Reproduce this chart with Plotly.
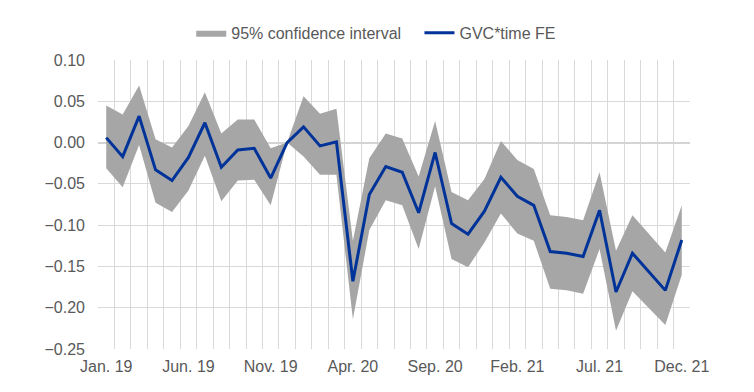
import plotly.graph_objects as go

months = ["Jan", "Feb", "Mar", "Apr", "May", "Jun", "Jul", "Aug", "Sep", "Oct", "Nov", "Dec"]
categories = [f"{m}. {y}" for y in ["19", "20", "21"] for m in months]

estimate = [0.006, -0.017, 0.032, -0.033, -0.046, -0.018, 0.024, -0.030, -0.009, -0.007, -0.043, 0.000,
            0.019, -0.004, 0.001, -0.168, -0.063, -0.029, -0.036, -0.085, -0.012, -0.098, -0.111, -0.083,
            -0.042, -0.065, -0.076, -0.132, -0.134, -0.138, -0.082, -0.181, -0.134, -0.156, -0.179, -0.118]
upper = [0.045, 0.034, 0.069, 0.004, -0.006, 0.020, 0.061, 0.011, 0.028, 0.028, -0.007, 0.000,
         0.056, 0.035, 0.041, -0.119, -0.019, 0.011, 0.005, -0.041, 0.026, -0.060, -0.070, -0.044,
         0.002, -0.021, -0.032, -0.088, -0.090, -0.094, -0.036, -0.131, -0.088, -0.111, -0.133, -0.076]
lower = [-0.031, -0.054, -0.003, -0.073, -0.084, -0.058, -0.016, -0.071, -0.046, -0.045, -0.076, 0.000,
         -0.017, -0.039, -0.039, -0.214, -0.106, -0.070, -0.076, -0.129, -0.053, -0.141, -0.151, -0.121,
         -0.086, -0.110, -0.119, -0.177, -0.179, -0.183, -0.129, -0.228, -0.180, -0.200, -0.221, -0.160]

tick_idx = list(range(0, 36, 5))
tick_text = [categories[i] for i in tick_idx]
xs = list(range(len(categories)))

fig = go.Figure()
fig.add_trace(go.Scatter(x=xs, y=lower, mode="lines", line=dict(width=0, color="#A6A6A6"),
                         showlegend=False, hoverinfo="skip"))
fig.add_trace(go.Scatter(x=xs, y=upper, mode="lines", line=dict(width=0, color="#A6A6A6"),
                         fill="tonexty", fillcolor="#A6A6A6",
                         name="95% confidence interval\u00a0\u00a0\u00a0"))
fig.add_trace(go.Scatter(x=xs, y=estimate, mode="lines", line=dict(width=3, color="#003399"),
                         name="GVC*time FE"))

fig.update_layout(
    width=746, height=384,
    margin=dict(l=90, r=64, t=52, b=43, autoexpand=False),
    paper_bgcolor="white", plot_bgcolor="white",
    font=dict(family="Liberation Sans, Arial, sans-serif", size=16, color="#595959"),
    legend=dict(orientation="h", x=0.47, xanchor="center", y=1.094, yanchor="middle",
                font=dict(size=16, color="#595959"), itemwidth=30, traceorder="normal"),
    xaxis=dict(range=[-0.5, 35.5], tickmode="array", tickvals=tick_idx, ticktext=tick_text,
               showgrid=False, zeroline=False, showline=False, ticks="", ticklabelstandoff=6,
               automargin=False,
               minor=dict(tick0=-0.5, dtick=1, showgrid=True, gridcolor="#D9D9D9", gridwidth=1, ticks=""),
               tickfont=dict(size=16, color="#595959")),
    yaxis=dict(range=[-0.25, 0.10], dtick=0.05, tickformat=".2f", showgrid=True,
               gridcolor="#D9D9D9", gridwidth=1, zeroline=True, zerolinecolor="#D4D4D4", zerolinewidth=2,
               showline=False, ticks="", ticklabelstandoff=12, automargin=False,
               tickfont=dict(size=16, color="#595959")),
)

fig.write_html("out.html")
